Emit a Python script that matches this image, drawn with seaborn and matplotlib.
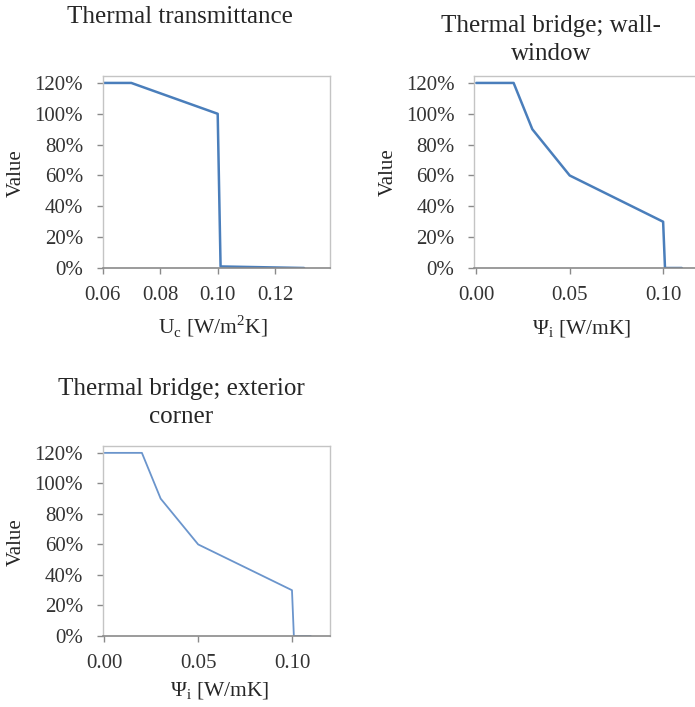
import matplotlib
matplotlib.use("Agg")
import matplotlib.pyplot as plt
from matplotlib.ticker import PercentFormatter
import seaborn as sns
import pandas as pd

# Value curves for each parameter
uc_x = [0.06, 0.07, 0.10, 0.101, 0.13]
uc_y = [1.20, 1.20, 1.00, 0.01, 0.00]

ww_x = [0.00, 0.02, 0.03, 0.05, 0.10, 0.101, 0.11]
ww_y = [1.20, 1.20, 0.90, 0.60, 0.30, 0.00, 0.00]

ec_x = [0.00, 0.02, 0.03, 0.05, 0.10, 0.101, 0.11]
ec_y = [1.20, 1.20, 0.90, 0.60, 0.30, 0.00, 0.00]

titles = ["Thermal transmittance", "Thermal bridge; wall-\nwindow",
          "Thermal bridge; exterior\ncorner"]
xlabels = [r"U$_\mathregular{c}$ [W/m$^\mathregular{2}$K]",
           r"$\mathregular{\Psi}_\mathregular{i}$ [W/mK]",
           r"$\mathregular{\Psi}_\mathregular{i}$ [W/mK]"]
uc_ticks = [0.06, 0.08, 0.10, 0.12]
psi_ticks = [0.00, 0.05, 0.10]
y_ticks = [0.0, 0.2, 0.4, 0.6, 0.8, 1.0, 1.2]

sns.set_theme(style="white")
plt.rcParams["font.family"] = ["Liberation Serif", "DejaVu Serif"]
plt.rcParams["mathtext.fontset"] = "custom"
plt.rcParams["mathtext.rm"] = "Liberation Serif"
plt.rcParams["ytick.major.pad"] = 10
plt.rcParams["xtick.major.pad"] = 9
plt.rcParams["xtick.major.size"] = 4
plt.rcParams["ytick.major.size"] = 4

W, H = 695, 707
fig = plt.figure(figsize=(W / 100, H / 100), dpi=100)


def box(l, t, r, b):
    return [l / W, 1 - b / H, (r - l) / W, (b - t) / H]


panels = [
    dict(x=uc_x, y=uc_y, pos=box(102.5, 76, 330, 268), xlim=(0.06, 0.139),
         ticks=uc_ticks, fmt="{:.2f}", color="#4a7ebb", lw=1.8,
         title_xy=(180, 17), ylab_xy=(16, 173), xlab_xy=(213, 326)),
    dict(x=ww_x, y=ww_y, pos=box(474, 76, 700.5, 268), xlim=(-0.0012, 0.12),
         ticks=psi_ticks, fmt="{:.2f}", color="#4a7ebb", lw=1.8,
         title_xy=(551, 40), ylab_xy=(388, 172), xlab_xy=(582, 329)),
    dict(x=ec_x, y=ec_y, pos=box(102.5, 446, 329.5, 636), xlim=(-0.001, 0.12),
         ticks=psi_ticks, fmt="{:.2f}", color="#6b95cc", lw=1.3,
         title_xy=(181, 403), ylab_xy=(16, 542), xlab_xy=(220, 691)),
]

text_color = "#262626"
box_color = "#c4c4c4"
axis_color = "#8a8a8a"

for p, title, xl in zip(panels, titles, xlabels):
    ax = fig.add_axes(p["pos"])
    df = pd.DataFrame({"x": p["x"], "y": p["y"]})
    sns.lineplot(data=df, x="x", y="y", ax=ax, sort=False, estimator=None,
                 color=p["color"], linewidth=p["lw"])
    ax.set_xlim(*p["xlim"])
    ax.set_ylim(0, 1.245)
    ax.set_xticks(p["ticks"])
    ax.set_xticklabels([p["fmt"].format(t) for t in p["ticks"]])
    ax.set_yticks(y_ticks)
    ax.yaxis.set_major_formatter(PercentFormatter(1.0, decimals=0))
    ax.set_xlabel("")
    ax.set_ylabel("")
    for side in ["left", "top", "right"]:
        ax.spines[side].set_color(box_color)
        ax.spines[side].set_linewidth(1.0)
    ax.spines["bottom"].set_color(axis_color)
    ax.spines["bottom"].set_linewidth(1.2)
    ax.tick_params(axis="both", direction="out", length=4, width=1,
                   color=axis_color, labelsize=15, labelcolor="#333333",
                   bottom=True, left=True)
    ax.tick_params(axis="y", pad=10)
    ax.tick_params(axis="x", pad=9)
    ax.grid(False)

    tx, ty = p["title_xy"]
    fig.text(tx / W, 1 - ty / H, title, ha="center", va="center",
             fontsize=18, color=text_color, linespacing=1.3)
    lx, ly = p["ylab_xy"]
    fig.text(lx / W, 1 - ly / H, "Value", ha="center", va="center",
             rotation=90, fontsize=15, color=text_color)
    xx, xy = p["xlab_xy"]
    fig.text(xx / W, 1 - xy / H, xl, ha="center", va="center",
             fontsize=15.5, color=text_color)

fig.savefig("out.png", dpi=100, facecolor="white")
